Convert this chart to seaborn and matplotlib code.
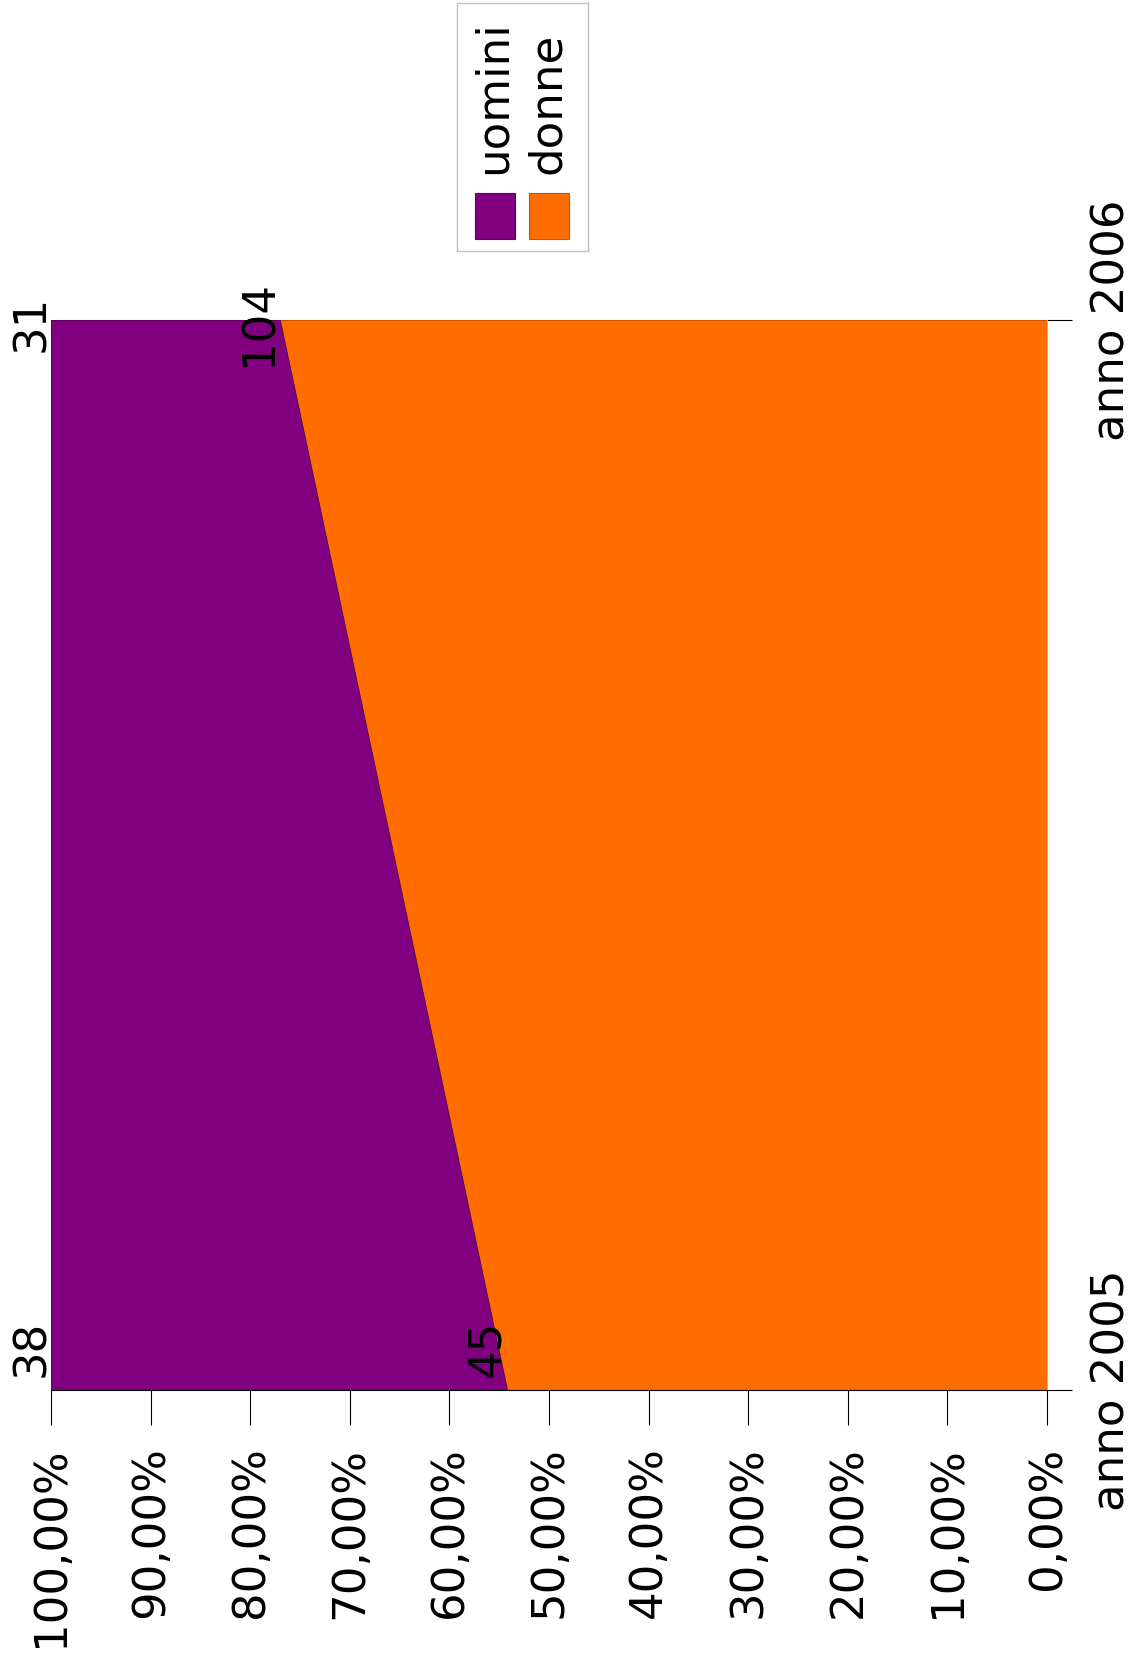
import matplotlib
matplotlib.use("Agg")
import matplotlib.pyplot as plt
import matplotlib.patches as mpatches
from matplotlib.ticker import FuncFormatter, MultipleLocator
import numpy as np
import pandas as pd
import seaborn as sns


# data (absolute counts, shown as 100% stacked area)
anni = ["anno 2005", "anno 2006"]
uomini = [38, 31]
donne = [45, 104]
serie = ["uomini", "donne"]

colori = {"uomini": "#800080", "donne": "#ff6d00"}
bordi = {"uomini": "#5e005e", "donne": "#c85400"}

sns.set_theme(style="white")
plt.rcParams["font.family"] = ["DejaVu Sans"]
plt.rcParams["text.color"] = "black"

FS = 32.4
W, H = 1136, 1666


def fig_box(x0, y0, x1, y1):
    # pixel box (image coords, y down) -> figure fraction rect
    return [x0 / W, 1 - y1 / H, (x1 - x0) / W, (y1 - y0) / H]


df = pd.DataFrame({"anno": anni, "uomini": uomini, "donne": donne})
tot = df["uomini"] + df["donne"]
df["p_donne"] = df["donne"] / tot * 100
df["p_top"] = 100.0
pos = np.arange(len(df))

fig = plt.figure(figsize=(W / 100, H / 100), dpi=100)
ax = fig.add_axes(fig_box(51, 320, 1047, 1390))

# chart is drawn turned a quarter turn: percent runs right->left, years bottom->top
ax.fill_betweenx(pos, 0, df["p_donne"], facecolor=colori["donne"],
                 edgecolor=bordi["donne"], linewidth=0.8, zorder=2)
ax.fill_betweenx(pos, df["p_donne"], df["p_top"], facecolor=colori["uomini"],
                 edgecolor=bordi["uomini"], linewidth=0.8, zorder=2)

ax.set_xlim(100, 0)
ax.set_ylim(0, len(df) - 1)

ax.xaxis.set_major_locator(MultipleLocator(10))
ax.xaxis.set_major_formatter(
    FuncFormatter(lambda v, p: f"{v:.2f}".replace(".", ",") + "%"))
ax.tick_params(axis="x", bottom=True, direction="out", length=25.2, width=0.8,
               color="black", pad=15.5, labelsize=FS, labelrotation=90,
               labelcolor="black")

ax.set_yticks(pos)
ax.set_yticklabels(df["anno"])
ax.yaxis.tick_right()
ax.tick_params(axis="y", right=True, left=False, direction="out", length=18,
               width=0.8, color="black", pad=13, labelsize=FS, labelrotation=90,
               labelcolor="black")
for t in ax.get_yticklabels():
    t.set_va("center")

ax.grid(False)
ax.spines["left"].set_visible(False)
ax.spines["top"].set_visible(False)
ax.spines["bottom"].set_color("black")
ax.spines["bottom"].set_linewidth(0.8)
ax.spines["right"].set_color("#b8b8b8")
ax.spines["right"].set_linewidth(0.8)

# value labels
for i, r in df.iterrows():
    if i == 0:
        ha, dy = "left", 13
    else:
        ha, dy = "center", -3
    ax.annotate(str(r["uomini"]), xy=(r["p_top"], i), xytext=(-7, dy),
                textcoords="offset pixels", rotation=90, rotation_mode="anchor",
                ha=ha, va="baseline", fontsize=FS, color="black")
    ax.annotate(str(r["donne"]), xy=(r["p_donne"], i), xytext=(-8, dy),
                textcoords="offset pixels", rotation=90, rotation_mode="anchor",
                ha=ha, va="baseline", fontsize=FS, color="black")

# legend, built by hand so it can be turned like the rest of the chart
lax = fig.add_axes(fig_box(457, 3, 588, 251))
lax.set_xlim(0, 131)
lax.set_ylim(248, 0)
lax.set_xticks([])
lax.set_yticks([])
for s in lax.spines.values():
    s.set_color("#c0c0c0")
    s.set_linewidth(1)
for k, nome in enumerate(serie):
    x0 = 18 + k * 54
    lax.add_patch(mpatches.Rectangle((x0, 190), 40, 46, facecolor=colori[nome],
                                     edgecolor=bordi[nome], linewidth=0.8))
    lax.text(x0 + 31, 171, nome, rotation=90, rotation_mode="anchor",
             ha="left", va="baseline", fontsize=FS, color="black")

fig.savefig("out.png", dpi=100)
plt.close(fig)
